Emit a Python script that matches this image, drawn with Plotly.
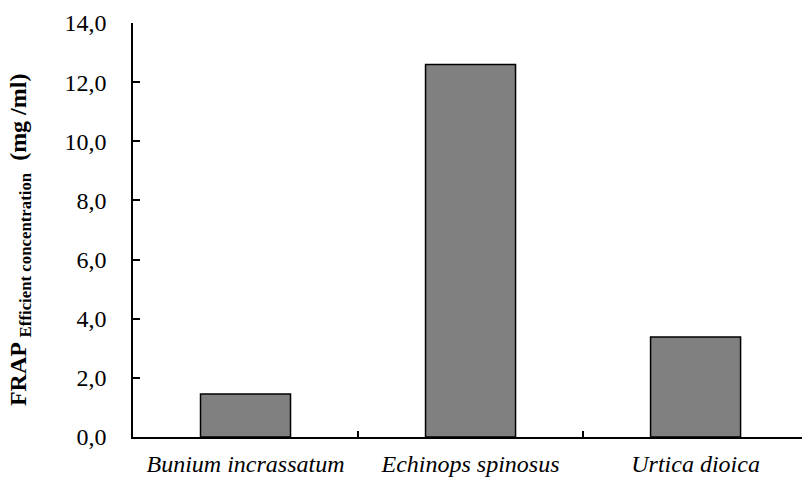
import plotly.graph_objects as go

categories = ["Bunium incrassatum", "Echinops spinosus", "Urtica dioica"]
values = [1.45, 12.6, 3.38]
y_ticks = [0, 2, 4, 6, 8, 10, 12, 14]
y_tick_labels = ["0,0", "2,0", "4,0", "6,0", "8,0", "10,0", "12,0", "14,0"]
y_title = "<b>FRAP </b><sub><b>Efficient concentration</b></sub><b>  (mg /ml)</b>"

fig = go.Figure()
fig.add_trace(go.Bar(
    x=categories,
    y=values,
    width=0.4,
    marker=dict(color="#808080", line=dict(color="black", width=1.5)),
))

font_family = "Liberation Serif"

fig.update_layout(
    width=802,
    height=481,
    margin=dict(l=133, r=0, t=23, b=44),
    plot_bgcolor="white",
    paper_bgcolor="white",
    showlegend=False,
    font=dict(family=font_family, size=24, color="black"),
)

fig.update_xaxes(
    type="category",
    range=[-0.5, 2.473],
    showline=True,
    linecolor="black",
    linewidth=1.5,
    ticks="inside",
    tickson="boundaries",
    ticklen=6,
    tickwidth=1.5,
    tickcolor="black",
    showgrid=False,
    tickfont=dict(family=font_family, size=24, style="italic"),
    ticklabelstandoff=4,
)

fig.update_yaxes(
    range=[0, 14],
    tickvals=y_ticks,
    ticktext=y_tick_labels,
    showline=True,
    linecolor="black",
    linewidth=1.5,
    ticks="inside",
    ticklen=7,
    tickwidth=1.5,
    tickcolor="black",
    showgrid=False,
    zeroline=False,
    tickfont=dict(family=font_family, size=24),
    ticklabelstandoff=20,
)

fig.add_annotation(
    text=y_title,
    textangle=-90,
    xref="paper", yref="paper",
    x=-0.169, y=0.478,
    xanchor="center", yanchor="middle",
    showarrow=False,
    font=dict(family=font_family, size=24, color="black"),
)

fig.write_html("out.html")
